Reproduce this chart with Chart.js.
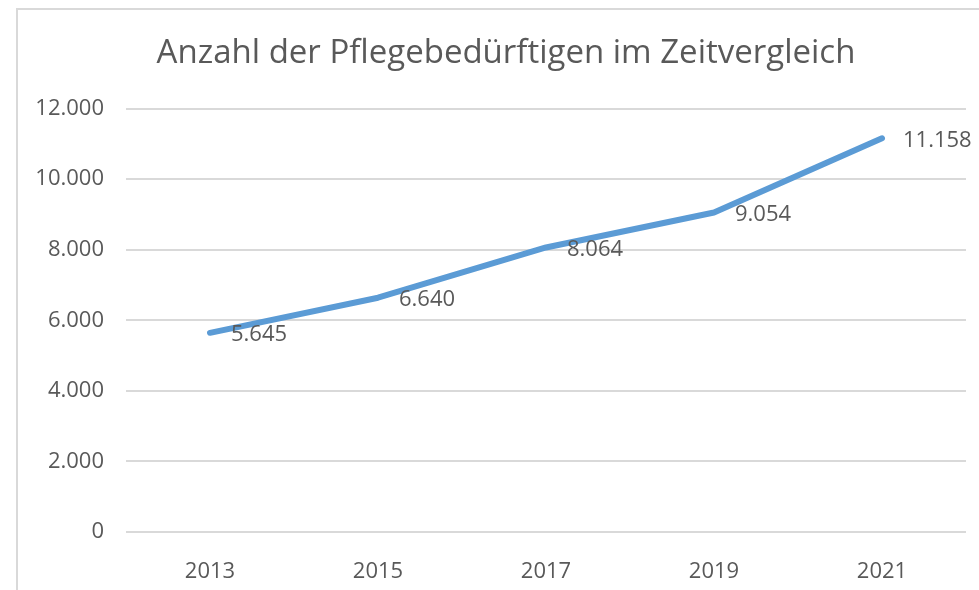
<!DOCTYPE html>
<html>
<head>
<meta charset="utf-8">
<script src="https://cdn.jsdelivr.net/npm/chart.js@4/dist/chart.umd.min.js"></script>
<style>
  body { margin: 0; background: #fff; overflow: hidden; }
  #frame {
    position: absolute; left: 16px; top: 8px; width: 1000px; height: 600px;
    border-top: 2px solid #d9d9d9; border-left: 2px solid #d9d9d9;
  }
  #chart { position: absolute; left: 0; top: 0; }
</style>
</head>
<body>
<div id="frame"></div>
<!-- canvas is wider than the window so the title centre sits where Excel put it -->
<canvas id="chart" width="1012" height="590"></canvas>
<script>
const years = ["2013", "2015", "2017", "2019", "2021"];
const pflegebeduerftige = [5645, 6640, 8064, 9054, 11158];
const yMin = 0;
const yMax = 12000;
const yStep = 2000;

const textColor = "#595959";
const gridColor = "#d9d9d9";
const lineColor = "#5b9bd5";
const fontFamily = "'Open Sans', sans-serif";

// deutsche Tausendertrennung: 12000 -> "12.000"
function formatDe(v) {
  return String(Math.round(v)).replace(/\B(?=(\d{3})+(?!\d))/g, ".");
}

// Datenbeschriftungen rechts neben den Punkten
const labelPlugin = {
  id: "pointLabels",
  afterDatasetsDraw(chart) {
    const ctx = chart.ctx;
    const meta = chart.getDatasetMeta(0);
    ctx.save();
    ctx.font = "22px " + fontFamily;
    ctx.fillStyle = textColor;
    ctx.textAlign = "left";
    ctx.textBaseline = "middle";
    meta.data.forEach(function (pt, i) {
      ctx.fillText(formatDe(pflegebeduerftige[i]), pt.x + 21, pt.y + 2);
    });
    ctx.restore();
  },
};

new Chart(document.getElementById("chart"), {
  type: "line",
  data: {
    labels: years,
    datasets: [
      {
        data: pflegebeduerftige,
        borderColor: lineColor,
        backgroundColor: lineColor,
        borderWidth: 6,
        borderCapStyle: "round",
        borderJoinStyle: "round",
        tension: 0,
        pointRadius: 0,
        fill: false,
      },
    ],
  },
  options: {
    responsive: false,
    animation: false,
    layout: { padding: 0 },
    plugins: {
      legend: { display: false },
      tooltip: { enabled: false },
      title: {
        display: true,
        text: "Anzahl der Pflegebedürftigen im Zeitvergleich",
        color: textColor,
        font: { family: fontFamily, size: 33, weight: "normal" },
        padding: { top: 34, bottom: 35 },
      },
    },
    scales: {
      x: {
        offset: true,
        grid: { display: false },
        border: { display: false },
        ticks: {
          color: textColor,
          font: { family: fontFamily, size: 22 },
          padding: 19,
          maxRotation: 0,
        },
        afterFit(scale) {
          scale.height = 58;
        },
      },
      y: {
        min: yMin,
        max: yMax,
        border: { display: false },
        grid: { color: gridColor, lineWidth: 2, drawTicks: false },
        ticks: {
          stepSize: yStep,
          color: textColor,
          font: { family: fontFamily, size: 22 },
          padding: 22,
          callback: function (v) {
            return formatDe(v);
          },
        },
        afterFit(scale) {
          scale.width = 126;
        },
      },
      // leere rechte Achse, nur als Abstand zum rechten Rand
      rightSpace: {
        type: "linear",
        position: "right",
        grid: { display: false },
        border: { display: false },
        ticks: { display: false },
        afterFit(scale) {
          scale.width = 46;
        },
      },
    },
  },
  plugins: [labelPlugin],
});
</script>
</body>
</html>
